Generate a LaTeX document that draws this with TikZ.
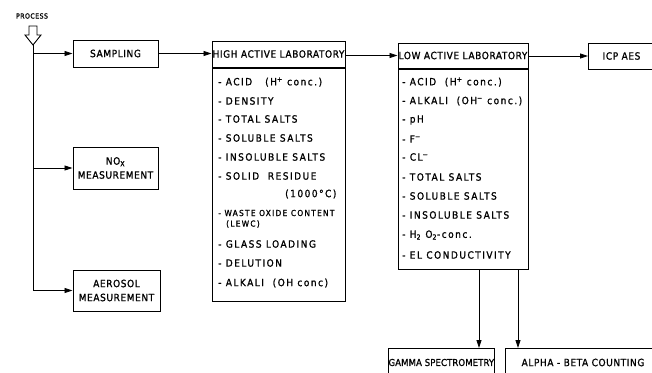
\documentclass[tikz,border=0pt]{standalone}
\usepackage{fontspec}
\setmainfont{DejaVu Sans Condensed}[LetterSpace=6,FakeBold=1.2]
\newfontfamily\itemfont{DejaVu Sans Condensed}[LetterSpace=15,FakeBold=1.2]
\newfontfamily\tightfont{DejaVu Sans Condensed}[LetterSpace=1,FakeBold=1.2]
\usetikzlibrary{arrows.meta}
\newcommand{\lab}{\fontsize{10}{11}\selectfont}
\newcommand{\itm}{\itemfont\fontsize{10}{11}\selectfont}
\begin{document}
\begin{tikzpicture}[x=1pt,y=-1pt,
  box/.style={draw, line width=1pt, inner sep=0pt, align=center, font=\lab},
  arr/.style={-{Triangle[length=8pt,width=5pt]}, line width=0.8pt},
  item/.style={anchor=west, inner sep=0pt, font=\itm}]
\useasboundingbox (0,0) rectangle (652,372);
\clip (0,0) rectangle (652,372);
% process
\node[font=\fontsize{7}{8}\selectfont, inner sep=0pt] (proc) at (32,16) {PROCESS};
\draw[line width=0.9pt, line join=miter] (29,26) -- (37,26) -- (37,35) -- (41,35) -- (33,45) -- (25,35) -- (29,35) -- cycle;
\coordinate (p) at (33,45);
% left boxes
\node[box, minimum width=85pt, minimum height=27pt] (samp) at (115.5,53.5) {SAMPLING};
\node[box, minimum width=85pt, minimum height=42pt] (nox) at (115.5,168) {NO\textsubscript{X}\\[3pt]MEASUREMENT};
\node[box, minimum width=87pt, minimum height=41pt] (aer) at (116.5,290.5) {AEROSOL\\[3pt]MEASUREMENT};
\draw[arr] (p) |- (aer.west);
\draw[arr] (p |- samp.west) -- (samp.west);
\draw[arr] (p |- nox.west) -- (nox.west);
% high active lab
\node[box, minimum width=133pt, minimum height=26pt] (hh) at (278.5,54) {HIGH ACTIVE LABORATORY};
\node[box, minimum width=133pt, minimum height=233pt, anchor=north] (hl) at (hh.south) {};
\draw[arr] (samp.east) -- (samp.east -| hh.west);
\node[item] (h1) at (218,82) {- ACID \ \ (H\textsuperscript{+} conc.)};
\node[item] (h2) at (218,101) {- DENSITY};
\node[item] (h3) at (218,119) {- TOTAL SALTS};
\node[item] (h4) at (218,138) {- SOLUBLE SALTS};
\node[item] (h5) at (218,157) {- INSOLUBLE SALTS};
\node[item] (h6) at (218,176) {- SOLID \ RESIDUE};
\node[item] (h7) at (285,194) {(1000°C)};
\node[item, font=\itemfont\fontsize{8.3}{9}\selectfont] (h8) at (218,213) {- WASTE OXIDE CONTENT};
\node[item, font=\itemfont\fontsize{8.3}{9}\selectfont] (h9) at (226,224) {(LEWC)};
\node[item] (h10) at (218,244) {- GLASS LOADING};
\node[item] (h11) at (218,263) {- DELUTION};
\node[item] (h12) at (218,283) {- ALKALI \ (OH conc)};
% low active lab
\node[box, minimum width=130pt, minimum height=25pt] (lh) at (463,55.5) {LOW ACTIVE LABORATORY};
\node[box, minimum width=130pt, minimum height=200pt, anchor=north] (ll) at (lh.south) {};
\draw[arr] (hh.east |- lh.west) -- (lh.west);
\node[item] (l1) at (402,82) {- ACID \ (H\textsuperscript{+} conc.)};
\node[item] (l2) at (402,101) {- ALKALI \ (OH\textsuperscript{−} conc.)};
\node[item] (l3) at (402,120) {- pH};
\node[item] (l4) at (402,139) {- F\textsuperscript{−}};
\node[item] (l5) at (402,157) {- CL\textsuperscript{−}};
\node[item] (l6) at (402,177) {- TOTAL SALTS};
\node[item] (l7) at (402,196) {- SOLUBLE SALTS};
\node[item] (l8) at (402,215) {- INSOLUBLE SALTS};
\node[item] (l9) at (402,235) {- H\textsubscript{2} O\textsubscript{2}-conc.};
\node[item] (l10) at (402,255) {- EL CONDUCTIVITY};
% ICP
\node[box, minimum width=80pt, minimum height=26pt, anchor=west] (icp) at (588,56) {\hspace*{-14pt}ICP AES};
\draw[arr] (lh.east |- icp.west) -- (icp.west);
% bottom boxes
\node[box, font=\tightfont\fontsize{9.5}{11}\selectfont, minimum width=105pt, minimum height=28pt, anchor=north west] (gam) at (388,348) {GAMMA SPECTROMETRY};
\node[box, minimum width=155pt, minimum height=28pt, anchor=north west] (alp) at (505,348) {\hspace*{-8pt}ALPHA - BETA COUNTING\hspace*{-8pt}};
\coordinate (g) at (479,0);
\coordinate (a) at (518,0);
\draw[arr] (g |- ll.south) -- (g |- gam.north);
\draw[arr] (a |- ll.south) -- (a |- alp.north);
\end{tikzpicture}
\end{document}
